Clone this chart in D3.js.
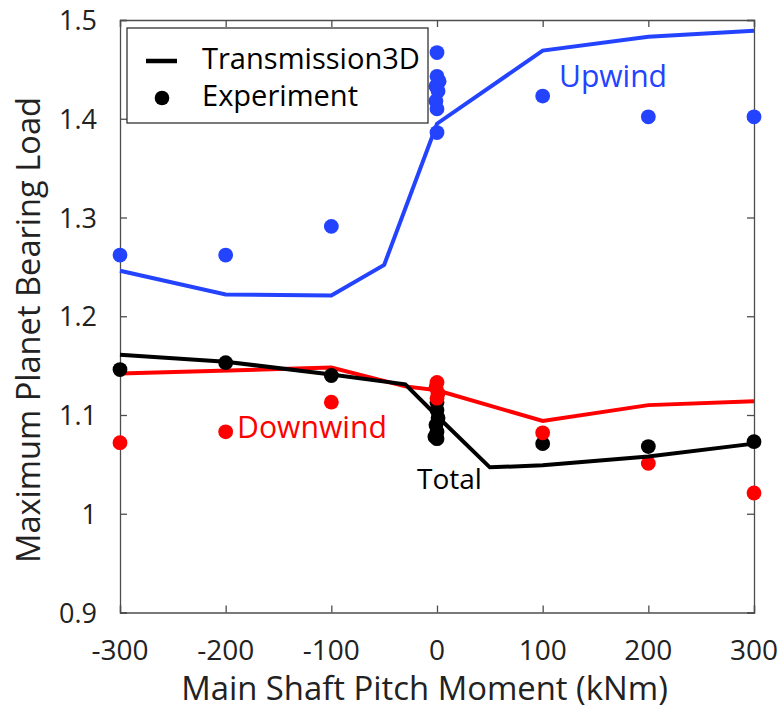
<!DOCTYPE html>
<html><head><meta charset="utf-8">
<script src="https://cdn.jsdelivr.net/npm/d3@7"></script>
<style>body{margin:0;background:#fff}text{font-family:"Open Sans",sans-serif}</style>
</head><body><svg id="c" width="779" height="713"></svg>
<script>
// ---- data ----
const xTicks = [-300,-200,-100,0,100,200,300];
const yTicks = [0.9,1.0,1.1,1.2,1.3,1.4,1.5];
const yTickLabels = ["0.9","1","1.1","1.2","1.3","1.4","1.5"];
// Transmission3D model lines
const modelUpX = [-300,-200,-100,-50,0,100,200,300];
const modelUpY = [1.246,1.222,1.221,1.252,1.395,1.469,1.483,1.489];
const modelDownX = [-300,-100,-30,0,100,200,300];
const modelDownY = [1.142,1.148,1.129,1.125,1.094,1.110,1.114];
const modelTotalX = [-300,-200,-100,-30,0,50,100,200,300];
const modelTotalY = [1.161,1.154,1.141,1.131,1.099,1.047,1.049,1.058,1.071];
// Experiment points
const expUpX = [-300,-200,-100,0,0,2,-1,1,-1,0,0,100,200,300];
const expUpY = [1.262,1.262,1.291,1.467,1.443,1.438,1.433,1.428,1.418,1.410,1.386,1.423,1.402,1.402];
const expDownX = [-300,-200,-100,0,-1,1,0,100,200,300];
const expDownY = [1.072,1.083,1.113,1.133,1.128,1.122,1.117,1.082,1.051,1.021];
const expTotalX = [-300,-200,-100,0,0,1,-1,0,-2,0,100,200,300];
const expTotalY = [1.146,1.153,1.140,1.113,1.105,1.097,1.090,1.083,1.078,1.076,1.071,1.068,1.073];
const seriesNames = ["Transmission3D","Experiment"];
const labels = ["Upwind","Downwind","Total"];

const BLUE="#2343ff", RED="#ff0000", BLACK="#000000", AX="#4d4d4d";
const svg = d3.select("#c");
const x = d3.scaleLinear().domain([-300,300]).range([120,754]);
const y = d3.scaleLinear().domain([0.9,1.5]).range([612.5,20]);

// frame and ticks
const g = svg.append("g");
const axB = d3.axisBottom(x).tickValues(xTicks).tickSize(-7).tickFormat("");
const axT = d3.axisTop(x).tickValues(xTicks).tickSize(-7).tickFormat("");
const axL = d3.axisLeft(y).tickValues(yTicks).tickSize(-7).tickFormat("");
const axR = d3.axisRight(y).tickValues(yTicks).tickSize(-7).tickFormat("");
g.append("g").attr("transform",`translate(0,${y(0.9)})`).call(axB);
g.append("g").attr("transform",`translate(0,${y(1.5)})`).call(axT);
g.append("g").attr("transform",`translate(${x(-300)},0)`).call(axL);
g.append("g").attr("transform",`translate(${x(300)},0)`).call(axR);
g.selectAll(".domain").attr("stroke",AX).attr("stroke-width",1.3);
g.selectAll(".tick line").attr("stroke",AX).attr("stroke-width",1.3);

// tick labels
svg.append("g").selectAll("text").data(xTicks).join("text")
  .attr("x",d=>x(d)).attr("y",660).attr("text-anchor","middle")
  .attr("font-size",28).attr("fill","#222").text(d=>d);
svg.append("g").selectAll("text").data(yTicks).join("text")
  .attr("x",97).attr("y",d=>y(d)+10).attr("text-anchor","end")
  .attr("font-size",27).attr("fill","#222").text((d,i)=>yTickLabels[i]);

function fit(sel,target){const w=sel.node().getComputedTextLength();const fs=+sel.attr("font-size");sel.attr("font-size",fs*target/w);}
const xl = svg.append("text").attr("x",424.5).attr("y",700).attr("text-anchor","middle")
  .attr("font-size",30).attr("fill","#222").text("Main Shaft Pitch Moment (kNm)");
fit(xl,487);
const yl = svg.append("text").attr("transform","translate(40,330) rotate(-90)").attr("text-anchor","middle")
  .attr("font-size",30).attr("fill","#222").text("Maximum Planet Bearing Load");
fit(yl,466);

const line = d3.line().x(d=>x(d[0])).y(d=>y(d[1]));
function drawLine(xs,ys,c){svg.append("path").datum(xs.map((v,i)=>[v,ys[i]])).attr("d",line)
  .attr("fill","none").attr("stroke",c).attr("stroke-width",4).attr("stroke-linejoin","miter");}
function drawDots(xs,ys,c){svg.append("g").selectAll("circle").data(xs.map((v,i)=>[v,ys[i]])).join("circle")
  .attr("cx",d=>x(d[0])).attr("cy",d=>y(d[1])).attr("r",7.4).attr("fill",c);}

drawLine(modelUpX,modelUpY,BLUE);
drawDots(expUpX,expUpY,BLUE);
drawLine(modelDownX,modelDownY,RED);
drawDots(expTotalX,expTotalY,BLACK);
drawDots(expDownX,expDownY,RED);
drawLine(modelTotalX,modelTotalY,BLACK);

// annotations
const a1=svg.append("text").attr("x",559).attr("y",87).attr("font-size",29).attr("fill",BLUE).text(labels[0]); fit(a1,108);
const a2=svg.append("text").attr("x",237).attr("y",438).attr("font-size",29).attr("fill",RED).text(labels[1]); fit(a2,150);
const a3=svg.append("text").attr("x",417).attr("y",489).attr("font-size",29).attr("fill",BLACK).text(labels[2]); fit(a3,65);

// legend
const lg = svg.append("g");
lg.append("rect").attr("x",127).attr("y",28).attr("width",301).attr("height",95)
  .attr("fill","#fff").attr("stroke","#333").attr("stroke-width",1.3);
lg.append("line").attr("x1",146).attr("x2",177).attr("y1",61).attr("y2",61).attr("stroke",BLACK).attr("stroke-width",4.5);
lg.append("circle").attr("cx",162).attr("cy",98).attr("r",7.3).attr("fill",BLACK);
const l1=lg.append("text").attr("x",202).attr("y",69).attr("font-size",29).attr("fill","#000").text(seriesNames[0]); fit(l1,218);
const l2=lg.append("text").attr("x",202).attr("y",106).attr("font-size",29).attr("fill","#000").text(seriesNames[1]);
l2.attr("font-size",+l1.attr("font-size"));
</script></body></html>
